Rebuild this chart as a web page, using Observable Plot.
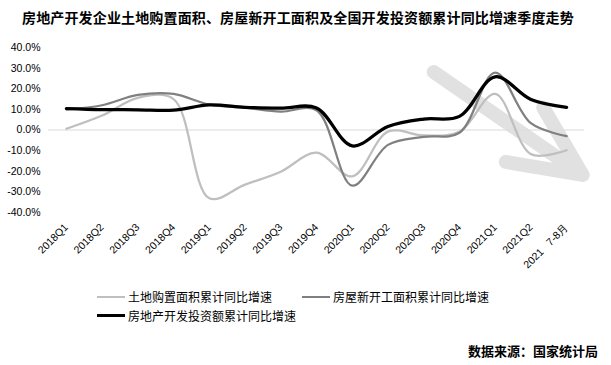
<!DOCTYPE html>
<html><head><meta charset="utf-8">
<script src="https://cdn.jsdelivr.net/npm/d3@7"></script>
<script src="https://cdn.jsdelivr.net/npm/@observablehq/plot@0.6"></script>
<style>
body{margin:0;background:#fff;width:611px;height:365px;position:relative;overflow:hidden;font-family:"Noto Sans CJK SC",sans-serif;}
#title{position:absolute;left:22px;top:7px;font-size:14px;font-weight:bold;letter-spacing:0.15px;white-space:nowrap;color:#000;}
#chart{position:absolute;left:0;top:30px;}
.leg{position:absolute;font-size:12px;color:#000;display:flex;align-items:center;white-space:nowrap;}
.sw{width:28px;margin-right:3px;}
#src{position:absolute;right:13px;top:341px;font-size:13px;font-weight:bold;}
</style></head>
<body>
<div id="title">房地产开发企业土地购置面积、房屋新开工面积及全国开发投资额累计同比增速季度走势</div>
<div id="chart"></div>
<div class="leg" style="left:97px;top:288px"><div class="sw" style="border-top:2px solid #bfbfbf"></div>土地购置面积累计同比增速</div>
<div class="leg" style="left:302px;top:288px"><div class="sw" style="border-top:2px solid #808080"></div>房屋新开工面积累计同比增速</div>
<div class="leg" style="left:97px;top:307px"><div class="sw" style="border-top:3px solid #000"></div>房地产开发投资额累计同比增速</div>
<div id="src">数据来源：国家统计局</div>
<script>
const quarters = ["2018Q1","2018Q2","2018Q3","2018Q4","2019Q1","2019Q2","2019Q3","2019Q4","2020Q1","2020Q2","2020Q3","2020Q4","2021Q1","2021Q2","2021\u00a0\u00a0\u00a07-8月"];
const landPurchase = [0.6, 7.0, 15.6, 15.0, -33.1, -26.5, -20.2, -11.0, -22.5, -0.8, -2.6, -0.9, 17.5, -11.7, -9.8];
const newStarts = [10.0, 12.0, 17.0, 17.5, 12.3, 10.8, 8.9, 9.6, -27.0, -7.2, -3.3, -1.3, 27.8, 3.3, -3.0];
const investment = [10.4, 9.9, 9.8, 9.6, 12.2, 11.0, 10.6, 10.7, -7.7, 1.7, 5.3, 6.6, 25.8, 14.8, 11.0];
const yTicks = [-40, -30, -20, -10, 0, 10, 20, 30, 40];
// decorative trend arrow, in data units (index, percent)
const trendArrow = [{x1: 9.06, y1: 42.7, x2: 14.45, y2: -21.8}];

const rows = (vals) => vals.map((v, i) => ({i, v}));

const plot = Plot.plot({
  width: 611,
  height: 250,
  marginTop: 17,
  marginBottom: 68,
  marginLeft: 48,
  marginRight: 27,
  style: {fontFamily: "'Liberation Sans', sans-serif", fontSize: "10.5px", color: "#000", background: "#fff"},
  x: {type: "linear", domain: [-0.5, 14.5], ticks: quarters.map((_, i) => i), tickFormat: i => quarters[i], tickRotate: -45, tickSize: 0, tickPadding: 13, label: null},
  y: {domain: [-40, 40], ticks: yTicks, tickFormat: d => d.toFixed(1) + "%", tickSize: 0, tickPadding: 8, label: null},
  marks: [
    Plot.ruleY([0], {stroke: "#d9d9d9", strokeWidth: 1}),
    Plot.arrow(trendArrow, {x1: "x1", y1: "y1", x2: "x2", y2: "y2", stroke: "#dedede", strokeOpacity: 0.9, strokeWidth: 14, headLength: 8.4, headAngle: 50, insetStart: 53, strokeLinecap: "round", strokeLinejoin: "miter"}),
    Plot.line(rows(landPurchase), {x: "i", y: "v", stroke: "#bfbfbf", strokeWidth: 2.25, curve: "catmull-rom"}),
    Plot.line(rows(newStarts), {x: "i", y: "v", stroke: "#808080", strokeWidth: 2.25, curve: "catmull-rom"}),
    Plot.line(rows(investment), {x: "i", y: "v", stroke: "#000", strokeWidth: 3.25, curve: "catmull-rom"})
  ]
});
document.getElementById("chart").appendChild(plot);
</script>
</body></html>
